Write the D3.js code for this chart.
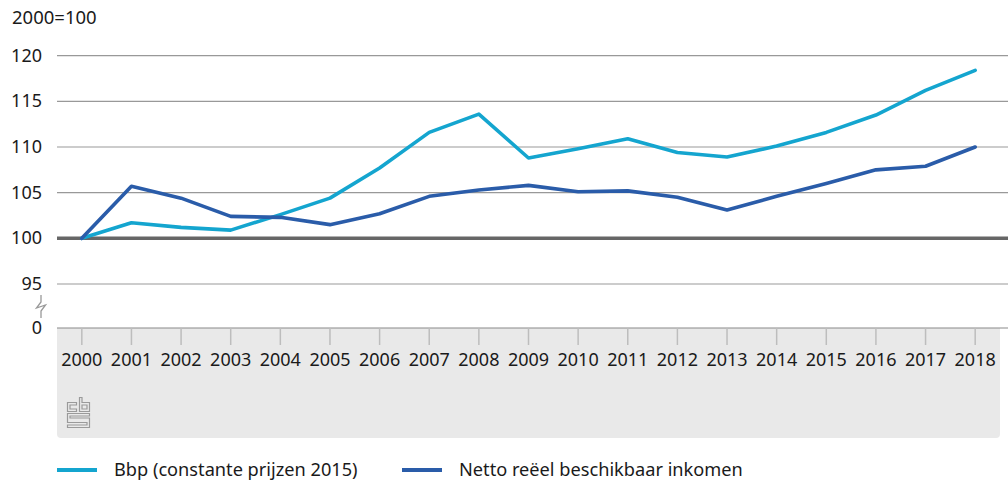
<!DOCTYPE html>
<html>
<head>
<meta charset="utf-8">
<script src="https://cdn.jsdelivr.net/npm/d3@7"></script>
<style>
  body { margin: 0; background: #fff; }
  text { font-family: "Noto Sans", sans-serif; fill: #1a1a1a; }
</style>
</head>
<body>
<div id="chart"></div>
<script>
var years = [2000, 2001, 2002, 2003, 2004, 2005, 2006, 2007, 2008, 2009,
             2010, 2011, 2012, 2013, 2014, 2015, 2016, 2017, 2018];
var bbp = [100, 101.7, 101.2, 100.9, 102.6, 104.4, 107.7, 111.6, 113.6, 108.8,
           109.8, 110.9, 109.4, 108.9, 110.1, 111.6, 113.5, 116.2, 118.4];
var netto = [100, 105.7, 104.4, 102.4, 102.3, 101.5, 102.7, 104.6, 105.3, 105.8,
             105.1, 105.2, 104.5, 103.1, 104.6, 106.0, 107.5, 107.9, 110.0];
var yTicks = [0, 95, 100, 105, 110, 115, 120];
var seriesNames = ["Bbp (constante prijzen 2015)", "Netto reëel beschikbaar inkomen"];
var seriesColors = ["#14a5cf", "#2a5ca9"];

var width = 1008, height = 483;
var plotLeft = 57, plotRight = 1000;

var svg = d3.select("#chart").append("svg")
    .attr("width", width)
    .attr("height", height);

// x: one slot per year
var x = d3.scalePoint()
    .domain(years)
    .range([plotLeft, plotRight])
    .padding(0.5);

// y with a break between 0 and 95
var y = d3.scaleLinear()
    .domain([0, 95, 120])
    .range([328, 284, 55.7]);

// grey band under the axis
svg.append("path")
    .attr("d", "M" + plotLeft + ",328 H" + plotRight + " V434 a4,4 0 0 1 -4,4 H" + (plotLeft + 4) + " a4,4 0 0 1 -4,-4 Z")
    .attr("fill", "#e9e9e9");

// gridlines
svg.selectAll(".grid")
    .data(yTicks.filter(function (d) { return d != 100; }))
    .enter().append("line")
    .attr("x1", plotLeft)
    .attr("x2", 1008)
    .attr("y1", function (d) { return y(d); })
    .attr("y2", function (d) { return y(d); })
    .attr("stroke", function (d) { return d == 0 ? "#8a8a8a" : "#999"; })
    .attr("stroke-width", 1.2);

// y labels
svg.selectAll(".ylab")
    .data(yTicks)
    .enter().append("text")
    .attr("x", 42)
    .attr("y", function (d) { return y(d) + 6; })
    .attr("text-anchor", "end")
    .attr("font-size", 18)
    .text(function (d) { return d; });

svg.append("text")
    .attr("x", 12)
    .attr("y", 24)
    .attr("font-size", 18.5)
    .text("2000=100");

// axis break mark
svg.append("path")
    .attr("d", "M41,295 V302 L36.5,308 L45.5,305 L41,311 V318")
    .attr("fill", "none")
    .attr("stroke", "#999")
    .attr("stroke-width", 1.3);

// x ticks and labels
svg.selectAll(".tick")
    .data(years)
    .enter().append("line")
    .attr("x1", function (d) { return x(d); })
    .attr("x2", function (d) { return x(d); })
    .attr("y1", 328)
    .attr("y2", 345)
    .attr("stroke", "#bdbdbd")
    .attr("stroke-width", 1.5);

svg.selectAll(".xlab")
    .data(years)
    .enter().append("text")
    .attr("x", function (d) { return x(d); })
    .attr("y", 366)
    .attr("text-anchor", "middle")
    .attr("font-size", 18)
    .text(function (d) { return d; });

// 100 baseline
svg.append("line")
    .attr("x1", plotLeft)
    .attr("x2", 1008)
    .attr("y1", y(100))
    .attr("y2", y(100))
    .attr("stroke", "#666")
    .attr("stroke-width", 3.5);

// lines
var line = d3.line()
    .x(function (d, i) { return x(years[i]); })
    .y(function (d) { return y(d); });

[bbp, netto].forEach(function (s, i) {
  svg.append("path")
      .datum(s)
      .attr("d", line)
      .attr("fill", "none")
      .attr("stroke", seriesColors[i])
      .attr("stroke-width", 3.6)
      .attr("stroke-linejoin", "round")
      .attr("stroke-linecap", "round");
});

// cbs logo (simplified)
var logo = svg.append("g")
    .attr("transform", "translate(67,397)")
    .attr("fill", "none")
    .attr("stroke", "#9a9a9a")
    .attr("stroke-width", 1.2);
logo.append("path").attr("d", "M0.5,5.5 H9.5 V8 H3 V12 H9.5 V14.5 H0.5 Z");
logo.append("path").attr("d", "M12.5,0.5 V14.5 H22.5 V5.5 H15 V0.5 Z M15,8 H20 V12 H15 Z");
logo.append("path").attr("d", "M0.5,16.5 H22.5 V19 H3 V21 H22.5 V30.5 H0.5 V28 H20 V25.5 H0.5 Z");

// legend
var legend = svg.selectAll(".legend")
    .data(seriesNames)
    .enter().append("g")
    .attr("transform", function (d, i) { return "translate(" + (i == 0 ? 57 : 402) + ",470)"; });

legend.append("line")
    .attr("x1", 0)
    .attr("x2", 40)
    .attr("stroke", function (d, i) { return seriesColors[i]; })
    .attr("stroke-width", 4);

legend.append("text")
    .attr("x", 57)
    .attr("y", 6)
    .attr("font-size", 18.2)
    .text(function (d) { return d; });
</script>
</body>
</html>
